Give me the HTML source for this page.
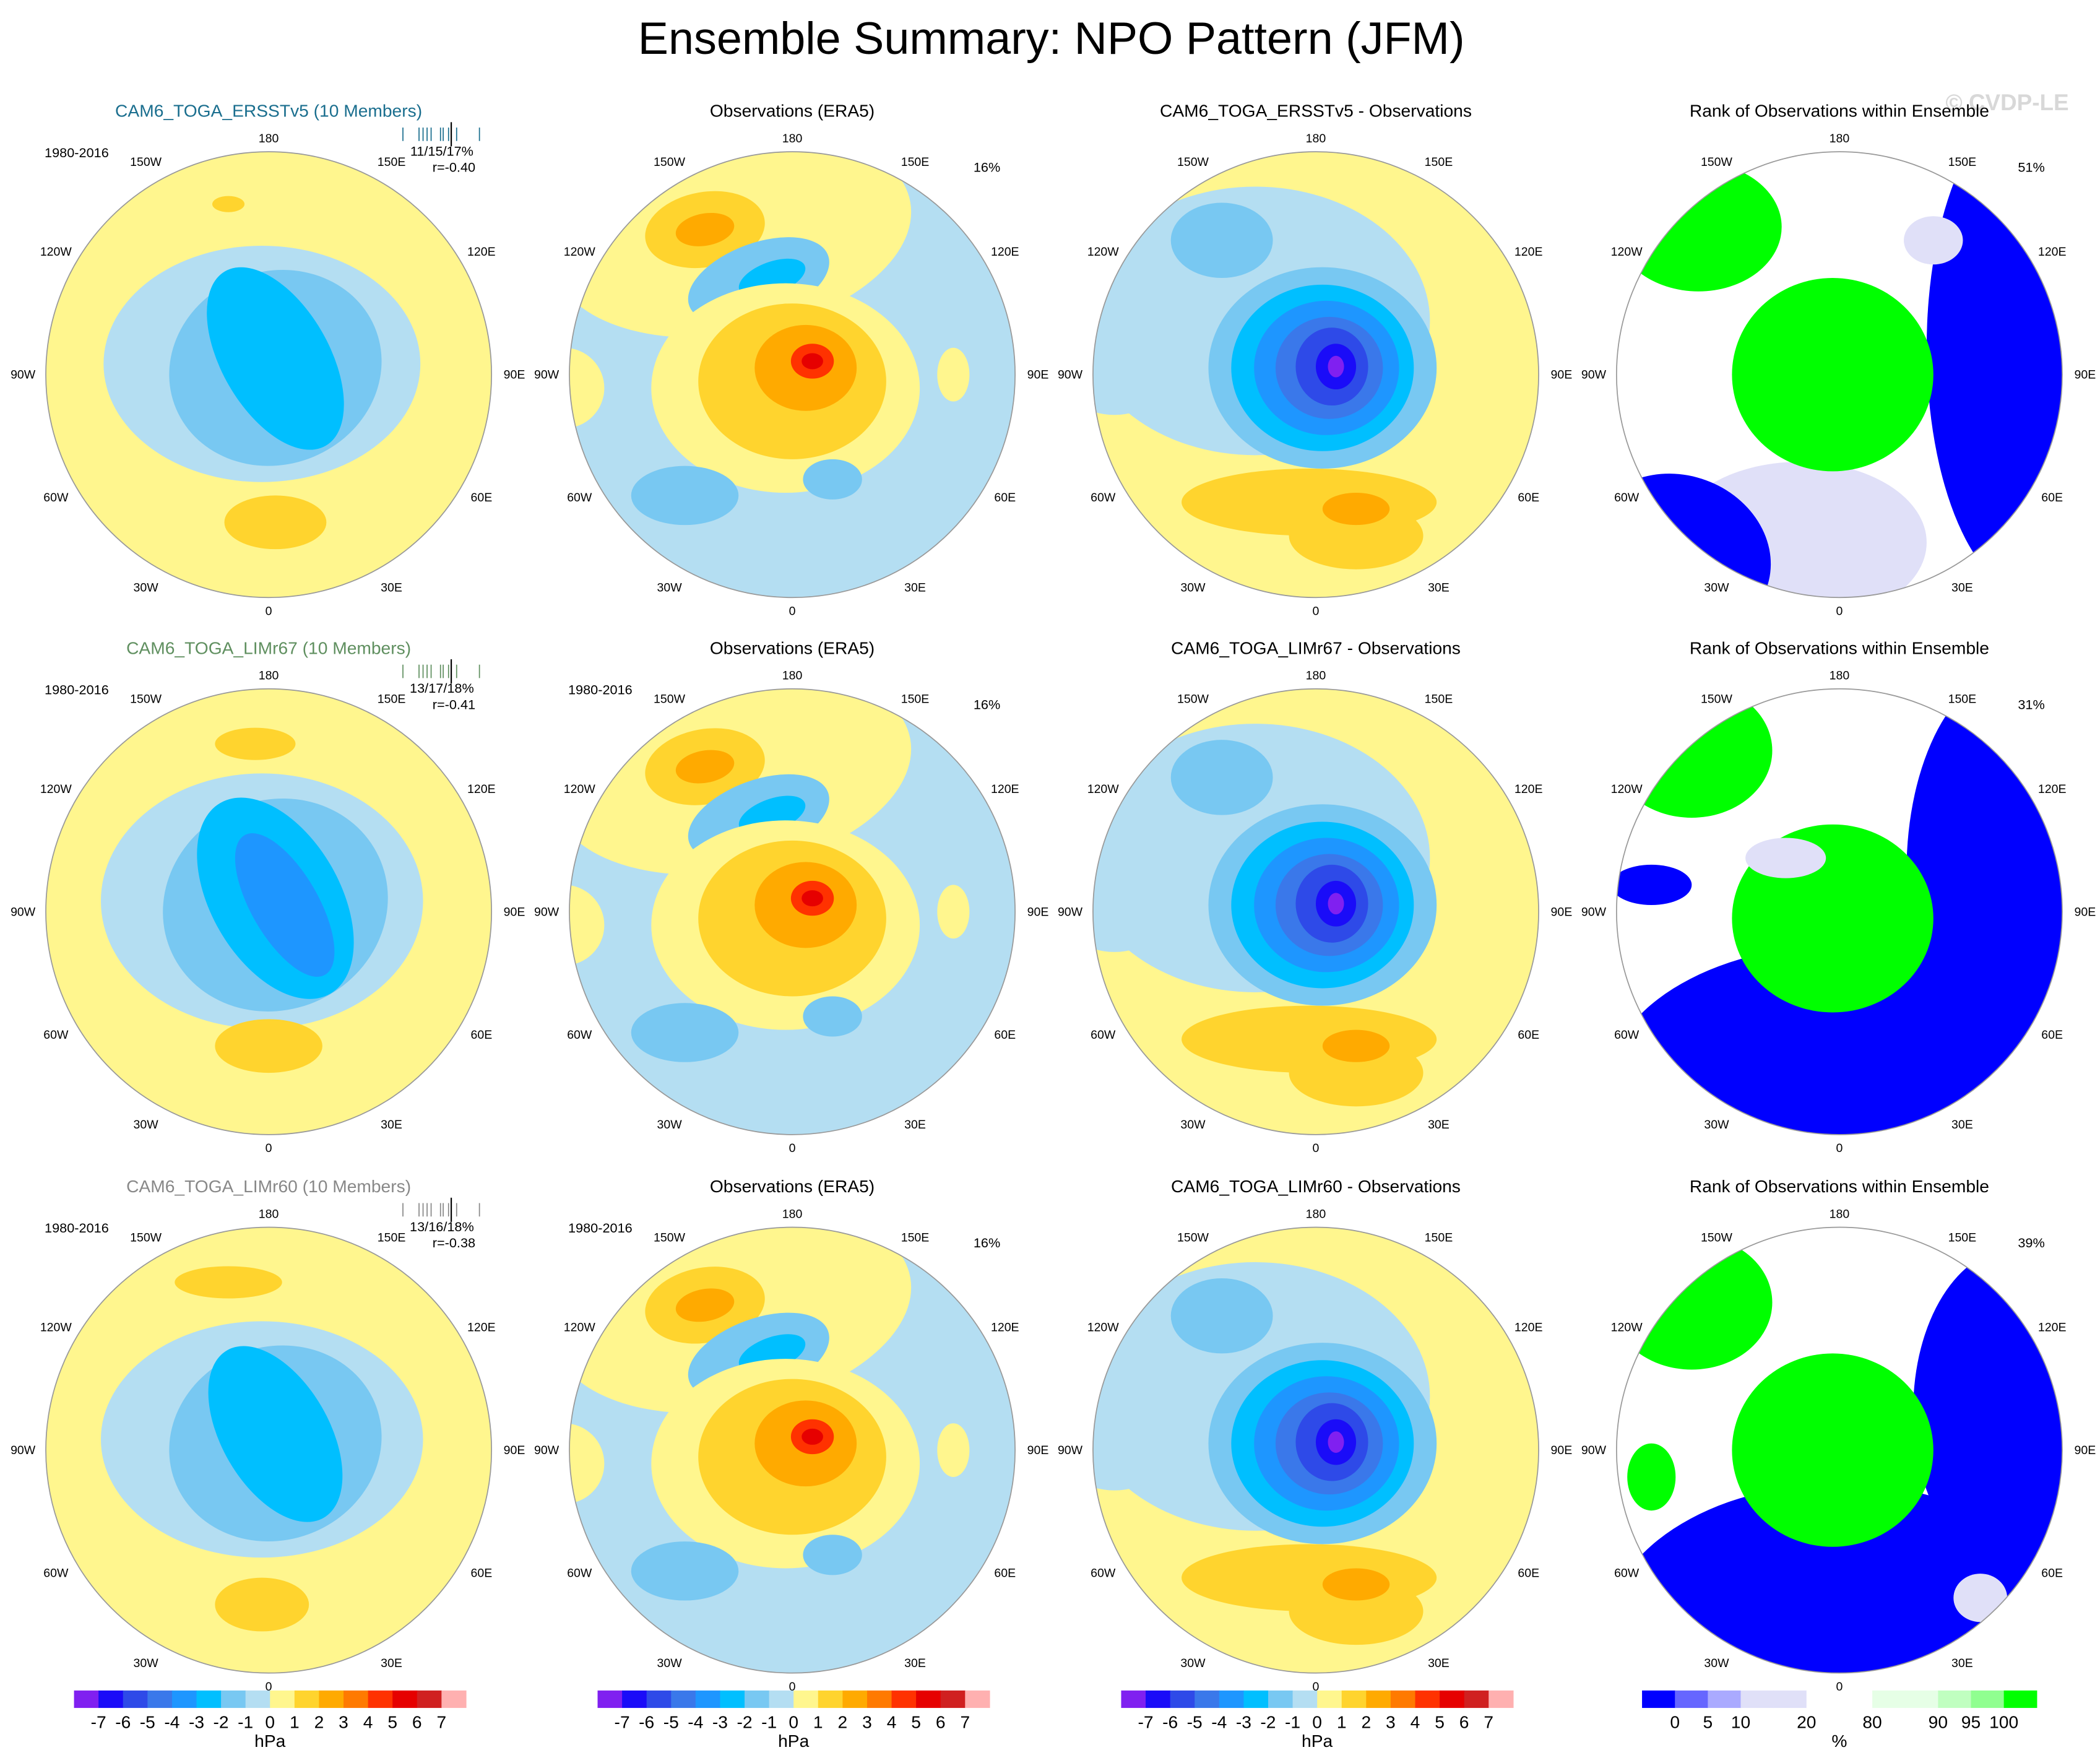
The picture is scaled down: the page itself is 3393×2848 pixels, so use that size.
<!DOCTYPE html>
<html><head><meta charset="utf-8"><style>
html,body{margin:0;padding:0;background:#fff;}
svg{display:block;font-family:"Liberation Sans",sans-serif;}
</style></head><body>
<svg id="fig" width="3393" height="2848" viewBox="0 0 1564 1313" xmlns="http://www.w3.org/2000/svg">
<rect width="1564" height="1313" fill="#fff"/>
<text x="783" y="40" font-size="34" text-anchor="middle">Ensemble Summary: NPO Pattern (JFM)</text>
<text x="1495" y="82" font-size="17" fill="#d8d8d8" text-anchor="middle" font-weight="bold">© CVDP-LE</text>
</svg>
<script>
const NS='http://www.w3.org/2000/svg';
const svg=document.getElementById('fig');
const hpaColors=['#8020f0','#1a0cf8','#2e4ae8','#3a78ea','#1e96ff','#00bfff','#78c8f2','#b4def2','#fff68e','#ffd42e','#ffaa00','#ff7a00','#ff3200','#e60000','#d02020','#ffb0b0'];
const hpaLabels=['-7','-6','-5','-4','-3','-2','-1','0','1','2','3','4','5','6','7'];
const rankColors=['#0000ff','#6666ff','#aaaaff','#e0e0f8','#e0e0f8','#ffffff','#ffffff','#e6ffe6','#e6ffe6','#c0ffc0','#90ff90','#00ff00'];
const rankLabels=['0','5','10','20','80','90','95','100'];
const rankLabelIdx=[1,2,3,5,7,9,10,11];
const lonLabels=['180','150E','120E','90E','60E','30E','0','30W','60W','90W','120W','150W'];
const lonValues=[180,150,120,90,60,30,0,-30,-60,-90,-120,-150];
const colX=[200,590,980,1370], rowY=[279,679,1080], R=166;
const Y='#fff68e',LB='#b4def2',B1='#78c8f2',B2='#00bfff',B3='#1e96ff',B4='#3a78ea',B5='#2e4ae8',B6='#1a0cf8',PU='#8020f0',G='#ffd42e',O='#ffaa00',O2='#ff7a00',RO='#ff3200',RD='#e60000',BL='#0000ff',LV='#e0e0f8',GR='#00ff00',LG='#e6ffe6',W='#ffffff';
function mk(tag,attrs,parent){const e=document.createElementNS(NS,tag);for(const k in attrs)e.setAttribute(k,attrs[k]);(parent||svg).appendChild(e);return e;}
function txt(s,x,y,size,anchor,fill,parent){const t=mk('text',{x:x,y:y,'font-size':size,'text-anchor':anchor||'middle',fill:fill||'#000'},parent);t.textContent=s;return t;}
const modelBlobs=[
 [[-5,-8,118,88,0,LB],[-60,-20,60,45,0,LB],[5,-5,80,72,-20,B1],[5,-12,40,75,-30,B2],[5,110,38,20,0,G],[-30,-127,12,6,0,G]],
 [[-5,-8,120,95,0,LB],[5,-5,85,78,-25,B1],[5,-10,48,82,-30,B2],[12,-5,25,60,-30,B3],[0,100,40,20,0,G],[-10,-125,30,12,0,G]],
 [[-5,-8,120,88,0,LB],[5,-5,80,72,-20,B1],[5,-12,40,72,-30,B2],[-5,115,35,20,0,G],[-30,-125,40,12,0,G]]];
const obsBlobs=[[-45,-105,135,75,-10,Y],[-65,-108,45,28,-10,G],[-65,-108,22,12,-10,O],[-25,-70,55,28,-20,B1],[-15,-72,26,12,-20,B2],[-5,10,100,78,0,Y],[0,5,70,58,0,G],[10,-5,38,32,0,O],[15,-10,16,13,0,RO],[15,-10,8,6,0,RD],[-80,90,40,22,0,B1],[30,78,22,15,0,B1],[-170,10,30,30,0,Y],[120,0,12,20,0,Y]];
const diffBlobs=[[-45,-40,130,100,0,LB],[-150,0,40,30,0,LB],[-70,-100,38,28,0,B1],[5,-5,85,75,0,B1],[5,-5,68,62,0,B2],[8,-5,54,50,0,B3],[10,-5,40,38,0,B4],[12,-6,27,29,0,B5],[15,-6,15,17,0,B6],[15,-6,6,8,0,PU],[-5,95,95,25,0,G],[30,120,50,25,0,G],[30,100,25,12,0,O]];
const rankBlobs=[
 [[145,-20,80,185,0,BL],[-30,125,95,60,0,LV],[-120,135,70,60,20,BL],[-105,-110,62,48,0,GR],[-5,0,75,72,0,GR],[70,-100,22,18,0,LV]],
 [[0,135,175,110,0,BL],[130,-30,80,150,0,BL],[-140,-20,30,15,0,BL],[-110,-120,60,50,0,GR],[-5,5,75,70,0,GR],[-40,-40,30,15,0,LV]],
 [[0,140,175,115,0,BL],[130,-30,75,120,0,BL],[-110,-110,60,50,0,GR],[-5,0,75,72,0,GR],[-140,20,18,25,0,GR],[105,110,20,18,0,LV]]];
const modelTitles=['CAM6_TOGA_ERSSTv5 (10 Members)','CAM6_TOGA_LIMr67 (10 Members)','CAM6_TOGA_LIMr60 (10 Members)'];
const modelColors=['#1a6e8e','#5f8f5f','#888888'];
const diffTitles=['CAM6_TOGA_ERSSTv5 - Observations','CAM6_TOGA_LIMr67 - Observations','CAM6_TOGA_LIMr60 - Observations'];
const statsA=['11/15/17%','13/17/18%','13/16/18%'], statsR=['r=-0.40','r=-0.41','r=-0.38'];
const rankPct=['51%','31%','39%'];
let cid=0;
function panel(r,c,bg,blobs,title,titleColor){
 const cx=colX[c],cy=rowY[r];
 const g=mk('g',{});
 
 
 const id='clip'+(cid++);
 const cp=mk('clipPath',{id:id},g);mk('circle',{cx:cx,cy:cy,r:R},cp);
 const inner=mk('g',{'clip-path':'url(#'+id+')'},g);
 mk('rect',{x:cx-R,y:cy-R,width:2*R,height:2*R,fill:bg},inner);
 blobs.forEach(b=>{const e=mk('ellipse',{cx:cx+b[0],cy:cy+b[1],rx:b[2],ry:b[3],fill:b[5],transform:'rotate('+b[4]+' '+(cx+b[0])+' '+(cy+b[1])+')'},inner);
  
  });
 const o=mk('circle',{cx:cx,cy:cy,r:R,fill:'none',stroke:'#999','stroke-width':0.8},g);
 
 
 lonValues.forEach((lv,i)=>{const a=lv*Math.PI/180;const rr=(lv===180||lv===0)?176:183;
  const t=txt(lonLabels[i],cx+rr*Math.sin(a),cy+rr*Math.cos(a)+3,9,'middle','#000',g);
  
  });
 const tt=txt(title,cx,cy-192,13,'middle',titleColor,g);
 
 
 return g;
}
for(let r=0;r<3;r++){
 const g0=panel(r,0,Y,modelBlobs[r],modelTitles[r],modelColors[r]);
 const y1=txt('1980-2016',colX[0]-143,rowY[r]-162,10,'middle','#000',g0);
 
 
 const s1=txt(statsA[r],colX[0]+129,rowY[r]-163,10,'middle','#000',g0);
 
 
 const s2=txt(statsR[r],colX[0]+138,rowY[r]-151,10,'middle','#000',g0);
 
 
 [0,12,15,18,21,28,30,34,40,57].forEach(d=>{const l=mk('line',{x1:colX[0]+100+d,x2:colX[0]+100+d,y1:rowY[r]-184,y2:rowY[r]-174,stroke:modelColors[r],'stroke-width':0.8},g0);
  
  });
 mk('line',{x1:colX[0]+136,x2:colX[0]+136,y1:rowY[r]-188,y2:rowY[r]-170,stroke:'#000','stroke-width':1},g0);
 const g1=panel(r,1,LB,obsBlobs,'Observations (ERA5)','#000');
 const p1=txt('16%',colX[1]+145,rowY[r]-151,10,'middle','#000',g1);
 
 
 if(r>0){const y2=txt('1980-2016',colX[1]-143,rowY[r]-162,10,'middle','#000',g1);
  
  }
 panel(r,2,Y,diffBlobs,diffTitles[r],'#000');
 const g3=panel(r,3,W,rankBlobs[r],'Rank of Observations within Ensemble','#000');
 const p3=txt(rankPct[r],colX[3]+143,rowY[r]-151,10,'middle','#000',g3);
 
 
}
const cbX=[55,445,835], cbW=292, cbY=1259, cbH=13;
cbX.forEach(x0=>{
 const g=mk('g',{});
 
 
 const bw=cbW/hpaColors.length;
 hpaColors.forEach((col,i)=>{const b=mk('rect',{x:x0+i*bw,y:cbY,width:bw+0.3,height:cbH,fill:col},g);
  
  });
 hpaLabels.forEach((s,i)=>{const t=txt(s,x0+(i+1)*bw,cbY+28,13,'middle','#000',g);
  
  });
 const u=txt('hPa',x0+cbW/2,cbY+42,13,'middle','#000',g);
 
 
});
(function(){
 const x0=1223,w=294,g=mk('g',{});
 
 
 const bw=w/rankColors.length;
 rankColors.forEach((col,i)=>{const b=mk('rect',{x:x0+i*bw,y:cbY,width:bw+0.3,height:cbH,fill:col},g);
  
  });
 rankLabels.forEach((s,i)=>{const t=txt(s,x0+rankLabelIdx[i]*bw,cbY+28,13,'middle','#000',g);
  
  });
 const u=txt('%',x0+w/2,cbY+42,13,'middle','#000',g);
 
 
})();
</script>
</body></html>
